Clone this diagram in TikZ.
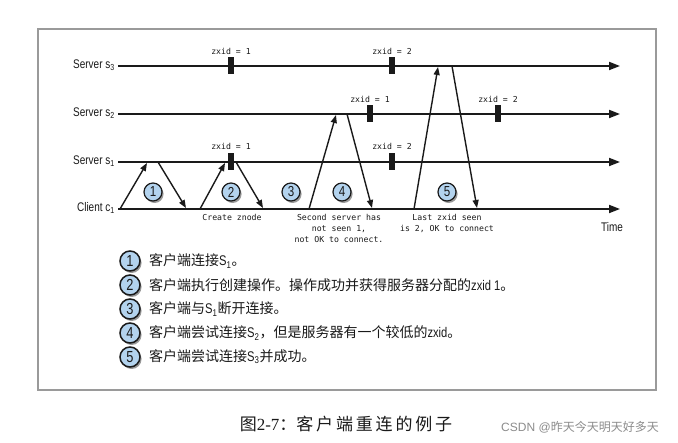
\documentclass[tikz,border=0pt]{standalone}
\usepackage{fontspec}
\setmainfont{Liberation Sans}
\newfontfamily\cjk{Noto Sans CJK SC}
\newfontfamily\cond[FakeStretch=0.8]{Liberation Sans}
\newfontfamily\mono{DejaVu Sans Mono}
\newfontfamily\capserif{Liberation Serif}
\usetikzlibrary{arrows.meta,shadows}
\definecolor{numblue}{HTML}{B3D3EE}
\definecolor{framegray}{HTML}{9A9A9A}
\definecolor{inkc}{HTML}{1A1A1A}
\newcommand\lt[1]{{\cond #1}}
\begin{document}
\begin{tikzpicture}[x=1pt,y=-1pt,
  tl/.style={draw=inkc,line width=1.9pt,-{Triangle[length=11pt,width=8pt]}},
  msg/.style={draw=inkc,line width=1.4pt,-{Triangle[length=8pt,width=6pt]}},
  zmark/.style={fill=inkc,minimum width=6pt,minimum height=17pt,inner sep=0pt},
  zlbl/.style={font=\mono\fontsize{8.2}{10}\selectfont,inner sep=0pt,text=inkc},
  note/.style={font=\mono\fontsize{8.2}{11.2}\selectfont,inner sep=0pt,align=center,text=inkc,anchor=north},
  srvlbl/.style={font=\cond\fontsize{12.5}{12.5}\selectfont,anchor=east,inner sep=0pt,text=inkc},
  num/.style={circle,draw=inkc,line width=1.2pt,fill=numblue,minimum size=18pt,inner sep=0pt,
    font=\cond\fontsize{14.5}{14.5}\selectfont,text=inkc,
    drop shadow={shadow xshift=1.6pt,shadow yshift=-2pt,fill=black,opacity=0.4}},
  numL/.style={num,minimum size=20pt,line width=1.5pt,font=\cond\fontsize{16}{16}\selectfont},
  leg/.style={anchor=west,inner sep=0pt,font=\cjk\fontsize{14}{14}\selectfont,text=inkc},
]
\useasboundingbox (0,0) rectangle (678,443);
\fill[white] (0,0) rectangle (678,443);
\draw[framegray,line width=1.4pt] (38,29) rectangle (656,390);

% time lines
\coordinate (s3a) at (118,66);  \coordinate (s3b) at (620,66);
\coordinate (s2a) at (118,114); \coordinate (s2b) at (620,114);
\coordinate (s1a) at (118,162); \coordinate (s1b) at (620,162);
\coordinate (ca)  at (118,209); \coordinate (cb)  at (620,209);
\draw[tl] (s3a) -- (s3b);
\draw[tl] (s2a) -- (s2b);
\draw[tl] (s1a) -- (s1b);
\draw[tl] (ca) -- (cb);

\node[srvlbl] (l3) at (115,65) {Server s\textsubscript{3}};
\node[srvlbl] (l2) at (115,113) {Server s\textsubscript{2}};
\node[srvlbl] (l1) at (115,161) {Server s\textsubscript{1}};
\node[srvlbl] (lc) at (115,208) {Client c\textsubscript{1}};
\node[font=\cond\fontsize{12.5}{12.5}\selectfont,inner sep=0pt,text=inkc] (time) at (612,227) {Time};

% zxid marks
\node[zmark] (m31) at (231,66) {};
\node[zlbl] (z31) at (231,51) {zxid = 1};
\node[zmark] (m32) at (392,66) {};
\node[zlbl] (z32) at (392,51) {zxid = 2};
\node[zmark] (m21) at (370,114) {};
\node[zlbl] (z21) at (370,99) {zxid = 1};
\node[zmark] (m22) at (498,114) {};
\node[zlbl] (z22) at (498,99) {zxid = 2};
\node[zmark] (m11) at (231,162) {};
\node[zlbl] (z11) at (231,146) {zxid = 1};
\node[zmark] (m12) at (392,162) {};
\node[zlbl] (z12) at (392,146) {zxid = 2};

% messages
\coordinate (a1) at (120,209); \coordinate (b1) at (147,163);
\coordinate (a1r) at (158,162); \coordinate (b1r) at (186,208);
\draw[msg] (a1) -- (b1);
\draw[msg] (a1r) -- (b1r);
\coordinate (a2) at (200,209); \coordinate (b2) at (225,163);
\coordinate (a2r) at (236,162); \coordinate (b2r) at (263,208);
\draw[msg] (a2) -- (b2);
\draw[msg] (a2r) -- (b2r);
\coordinate (a4) at (309,209); \coordinate (b4) at (336,115);
\coordinate (a4r) at (347,114); \coordinate (b4r) at (372,208);
\draw[msg] (a4) -- (b4);
\draw[msg] (a4r) -- (b4r);
\coordinate (a5) at (414,209); \coordinate (b5) at (438,67);
\coordinate (a5r) at (452,66); \coordinate (b5r) at (477,208);
\draw[msg] (a5) -- (b5);
\draw[msg] (a5r) -- (b5r);

% step circles
\node[num] (c1) at (153,192) {1};
\node[num] (c2) at (231,192) {2};
\node[num] (c3) at (291,192) {3};
\node[num] (c4) at (342,192) {4};
\node[num] (c5) at (447,192) {5};

% notes
\node[note] (n2) at (232,214) {Create znode};
\node[note] (n4) at (339,214) {Second server has\\not seen 1,\\not OK to connect.};
\node[note] (n5) at (447,214) {Last zxid seen\\is 2, OK to connect};

% legend
\node[numL] (k1) at (130,261) {1};
\node[numL] (k2) at (130,285) {2};
\node[numL] (k3) at (130,309) {3};
\node[numL] (k4) at (130,333) {4};
\node[numL] (k5) at (130,357) {5};
\node[leg] (t1) at (149,261) {客户端连接\lt{S\textsubscript{1}}。};
\node[leg] (t2) at (149,285) {客户端执行创建操作。操作成功并获得服务器分配的\lt{zxid 1}。};
\node[leg] (t3) at (149,309) {客户端与\lt{S\textsubscript{1}}断开连接。};
\node[leg] (t4) at (149,333) {客户端尝试连接\lt{S\textsubscript{2}}，但是服务器有一个较低的\lt{zxid}。};
\node[leg] (t5) at (149,357) {客户端尝试连接\lt{S\textsubscript{3}}并成功。};

% caption
\node[inner sep=0pt,text=inkc] (cap) at (346,424) {\cjk\fontsize{17}{17}\selectfont 图{\capserif 2-7}：客\,户\,端\,重\,连\,的\,例\,子};
\node[inner sep=0pt,text=black!45] (wm) at (580,427) {\fontsize{12}{12}\selectfont CSDN @{\cjk 昨天今天明天好多天}};
\end{tikzpicture}
\end{document}
